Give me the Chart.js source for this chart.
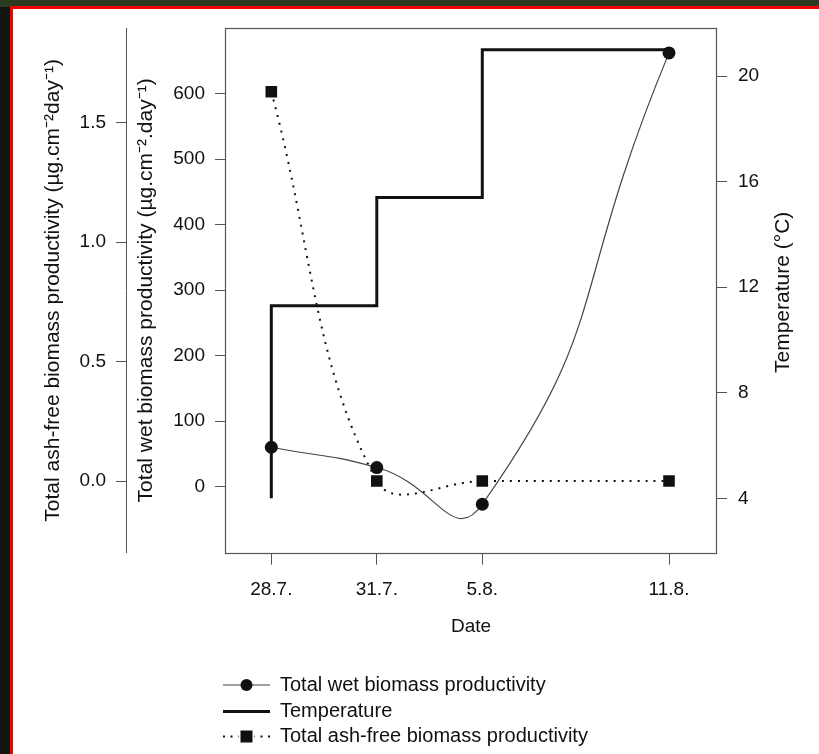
<!DOCTYPE html>
<html><head><meta charset="utf-8">
<script src="https://cdn.jsdelivr.net/npm/chart.js@4.4.1/dist/chart.umd.min.js"></script>
<style>
html,body{margin:0;padding:0;width:819px;height:754px;overflow:hidden;background:#11140f;}
#band{position:absolute;left:0;top:0;width:819px;height:7px;background:#2c3a20;}
#frame{position:absolute;left:10px;top:6px;width:820px;height:760px;background:#fff;border-top:3px solid #f40000;border-left:3px solid #f40000;}
#wrap{position:absolute;left:0;top:0;width:819px;height:754px;}
</style></head><body>
<div id="band"></div><div id="frame"></div>
<div id="wrap"><canvas id="c" width="819" height="754"></canvas></div>
<script>
// ---- data ----
const dateLabels = ['28.7.', '31.7.', '5.8.', '11.8.'];
const datePos = [0, 1, 2, 3.77];
const wetValues = [60, 29, -27, 662];          // µg.cm-2.day-1
const ashValues = [1.63, 0.0, 0.0, 0.0];       // µg.cm-2day-1
const tempStart = 4.0;                          // °C, start of step line
const tempValues = [11.3, 15.4, 21.0, 21.0];    // °C
const wetTicks = [0, 100, 200, 300, 400, 500, 600];
const ashTicks = [0, 0.5, 1.0, 1.5];
const tempTicks = [4, 8, 12, 16, 20];
const tempTitle = 'Temperature (°C)';

const FONT = "'Liberation Sans', Arial, Helvetica, sans-serif";
const TXT = '#111';
const AX = '#555';
const TITLE_SIZE = 21;

Chart.defaults.font.family = FONT;
Chart.defaults.font.size = 19;
Chart.defaults.color = TXT;

const wetData = datePos.map((x, i) => ({x: x, y: wetValues[i]}));
const ashData = datePos.map((x, i) => ({x: x, y: ashValues[i]}));
const tempData = [{x: datePos[0], y: tempStart}].concat(datePos.map((x, i) => ({x: x, y: tempValues[i]})));

const boxPlugin = {
  id: 'box',
  beforeDatasetsDraw(chart) {
    const {ctx, chartArea: a} = chart;
    ctx.save();
    ctx.strokeStyle = AX;
    ctx.lineWidth = 1.2;
    ctx.strokeRect(Math.round(a.left) + 0.5, Math.round(a.top) + 0.5, Math.round(a.right - a.left) - 1, Math.round(a.bottom - a.top));
    ctx.restore();
  }
};

// right-axis title, read bottom-to-top like the left ones
const tempTitlePlugin = {
  id: 'tempTitle',
  afterDraw(chart) {
    const s = chart.scales.yTemp;
    const ctx = chart.ctx;
    ctx.save();
    ctx.translate(s.right - 36 + 0, (s.top + s.bottom) / 2 + 2);
    ctx.rotate(-Math.PI / 2);
    ctx.fillStyle = TXT;
    ctx.font = TITLE_SIZE + 'px ' + FONT;
    ctx.textAlign = 'center';
    ctx.textBaseline = 'middle';
    ctx.fillText(tempTitle, 0, 0);
    ctx.restore();
  }
};

const legendPlugin = {
  id: 'customLegend',
  afterDraw(chart) {
    const ctx = chart.ctx;
    const ds = chart.data.datasets;
    const rows = [685, 711.5, 736.5];
    const x0 = 223, x1 = 270, xm = 246.5, tx = 280;
    ctx.save();
    ds.forEach((d, i) => {
      const y = rows[i];
      ctx.save();
      ctx.strokeStyle = d.borderColor;
      ctx.lineWidth = d.borderWidth;
      ctx.setLineDash(d.borderDash ? [2, 5.5] : []);
      ctx.beginPath();
      ctx.moveTo(x0, y); ctx.lineTo(x1, y);
      ctx.stroke();
      ctx.setLineDash([]);
      if (d.pointRadius > 0) {
        if (d.pointStyle === 'rect') {
          ctx.fillStyle = '#fff'; ctx.fillRect(xm - 8, y - 6, 16, 12);
          ctx.fillStyle = d.pointBackgroundColor;
          ctx.fillRect(xm - 6, y - 6, 12, 12);
        } else {
          ctx.fillStyle = d.pointBackgroundColor;
          ctx.beginPath(); ctx.arc(xm, y, 6, 0, Math.PI * 2); ctx.fill();
        }
      }
      ctx.restore();
      ctx.fillStyle = TXT;
      ctx.font = '20px ' + FONT;
      ctx.textBaseline = 'middle';
      ctx.textAlign = 'left';
      ctx.fillText(d.label, tx, y);
    });
    ctx.restore();
  }
};

new Chart(document.getElementById('c'), {
  type: 'line',
  data: {
    datasets: [
      {
        label: 'Total wet biomass productivity',
        yAxisID: 'yWet',
        data: wetData,
        borderColor: '#444',
        borderWidth: 1.2,
        tension: 0.55,
        pointStyle: 'circle',
        pointRadius: 6.5,
        pointBackgroundColor: '#111',
        pointBorderColor: '#111',
        pointBorderWidth: 0,
        order: 0
      },
      {
        label: 'Temperature',
        yAxisID: 'yTemp',
        data: tempData,
        stepped: 'before',
        borderColor: '#111',
        borderWidth: 3,
        pointRadius: 0,
        order: 2
      },
      {
        label: 'Total ash-free biomass productivity',
        yAxisID: 'yAsh',
        data: ashData,
        borderColor: '#111',
        borderWidth: 2,
        borderDash: [2, 6],
        tension: 0.38,
        pointStyle: 'rect',
        pointRadius: 8.2,
        pointBackgroundColor: '#111',
        pointBorderColor: '#111',
        pointBorderWidth: 0,
        order: 1
      }
    ]
  },
  options: {
    responsive: false,
    animation: false,
    devicePixelRatio: 1,
    layout: {padding: {left: 0, right: 0, top: 28, bottom: 101.3}},
    plugins: {legend: {display: false}, tooltip: {enabled: false}},
    scales: {
      x: {
        type: 'linear', position: 'bottom', min: -0.439, max: 4.225,
        border: {display: false},
        grid: {drawOnChartArea: false, tickLength: 12, color: AX, lineWidth: 1},
        ticks: {padding: 14, color: TXT, maxRotation: 0, autoSkip: false, callback: (v, i) => dateLabels[i]},
        afterBuildTicks: s => { s.ticks = datePos.map(v => ({value: v})); },
        title: {display: true, text: 'Date', color: TXT, padding: {top: 0, bottom: 14.3}},
        afterFit: s => { s.height = 100; }
      },
      yWet: {
        type: 'linear', position: 'left', weight: 0, min: -101, max: 700,
        border: {display: false},
        grid: {drawOnChartArea: false, tickLength: 10, color: AX, lineWidth: 1},
        ticks: {padding: 10, color: TXT},
        afterBuildTicks: s => { s.ticks = wetTicks.map(v => ({value: v})); },
        title: {display: true, text: 'Total wet biomass productivity (µg.cm⁻².day⁻¹)', color: TXT, font: {size: TITLE_SIZE}, padding: {top: 7.4, bottom: 0}},
        afterFit: s => { s.width = 99; }
      },
      yAsh: {
        type: 'linear', position: 'left', weight: 1, min: -0.30, max: 1.897,
        border: {display: true, color: AX, width: 1},
        grid: {drawOnChartArea: false, tickLength: 10, color: AX, lineWidth: 1},
        ticks: {padding: 10, color: TXT, callback: v => Number(v).toFixed(1)},
        afterBuildTicks: s => { s.ticks = ashTicks.map(v => ({value: v})); },
        title: {display: true, text: 'Total ash-free biomass productivity (µg.cm⁻²day⁻¹)', color: TXT, font: {size: TITLE_SIZE}, padding: {top: 40.4, bottom: 0}},
        afterFit: s => { s.width = 126; }
      },
      yTemp: {
        type: 'linear', position: 'right', min: 1.94, max: 21.82,
        border: {display: false},
        grid: {drawOnChartArea: false, tickLength: 10, color: AX, lineWidth: 1},
        ticks: {padding: 11, color: TXT},
        afterBuildTicks: s => { s.ticks = tempTicks.map(v => ({value: v})); },
        title: {display: false},
        afterFit: s => { s.width = 102; }
      }
    }
  },
  plugins: [boxPlugin, tempTitlePlugin, legendPlugin]
});
</script>
</body></html>
